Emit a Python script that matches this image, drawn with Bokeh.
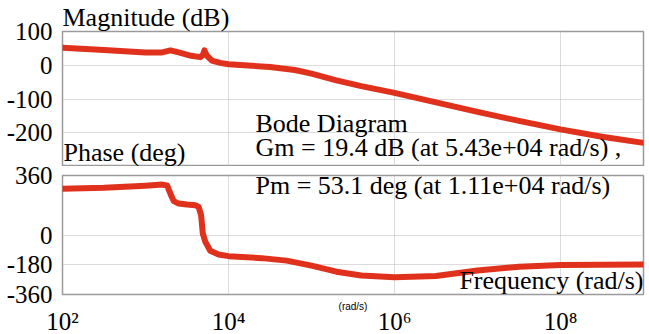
import numpy as np
from bokeh.plotting import figure
from bokeh.layouts import column
from bokeh.models import Label, FixedTicker
from bokeh.embed import file_html
from bokeh.resources import INLINE

# magnitude curve (log10 frequency, dB)
mag_logw = [2.0, 2.5, 3.0, 3.2, 3.3, 3.4, 3.55, 3.66, 3.69, 3.71, 3.74, 3.8, 3.9, 4.0, 4.5, 4.8, 5.0, 5.3, 5.6, 6.0, 6.5, 7.0, 7.5, 8.0, 8.5, 9.0]
mag_db = [52, 45, 38, 38, 44, 38, 28, 24, 30, 44, 28, 14, 7, 3, -5, -14, -25, -45, -62, -82, -110, -138, -165, -190, -212, -230]

# phase curve (log10 frequency, deg)
ph_logw = [2.0, 2.5, 3.0, 3.2, 3.26, 3.3, 3.34, 3.4, 3.5, 3.6, 3.64, 3.67, 3.69, 3.72, 3.78, 3.88, 4.0, 4.4, 4.7, 5.0, 5.3, 5.6, 6.0, 6.5, 7.0, 7.5, 8.0, 9.0]
ph_deg = [280, 286, 298, 305, 300, 250, 205, 190, 184, 180, 170, 120, 10, -40, -95, -118, -128, -140, -155, -185, -222, -245, -255, -248, -215, -192, -182, -178]

mag_yticks = [100, 0, -100, -200]
mag_ytick_labels = ["100", "0", "-100", "-200"]
ph_yticks = [360, 0, -180, -360]
ph_ytick_labels = ["360", "0", "-180", "-360"]
x_ticks = [1e2, 1e4, 1e6, 1e8]
x_tick_labels = ["10\u00b2", "10\u2074", "10\u2076", "10\u2078"]

RED = "#e0311c"
SERIF = "Liberation Serif"
GRID = "#b8b8b8"
TXT = "26px"

def style(p):
    p.outline_line_color = "#9a9a9a"
    p.outline_line_width = 1.5
    p.background_fill_color = "white"
    p.border_fill_color = "white"
    p.xgrid.ticker = FixedTicker(ticks=x_ticks)
    for g in (p.xgrid, p.ygrid):
        g.grid_line_color = GRID
        g.grid_line_dash = "1 1"
        g.grid_line_width = 1
    for ax in p.axis:
        ax.axis_line_color = None
        ax.major_tick_line_color = None
        ax.minor_tick_line_color = None
        ax.major_label_text_font = SERIF
        ax.major_label_text_font_size = "25px"
        ax.major_label_text_color = "black"
        ax.major_label_standoff = 4

W = 649
xr = (1e2, 1e9)

p1 = figure(width=W, height=166, x_axis_type="log", x_range=xr, y_range=(-300, 100),
            output_backend="svg", toolbar_location=None, title="Magnitude (dB)",
            min_border_left=62, min_border_right=6, min_border_top=0, min_border_bottom=0)
p1.title.text_font = SERIF
p1.title.text_font_size = TXT
p1.title.text_font_style = "normal"
p1.title.text_color = "black"
p1.title.align = "left"
p1.title.offset = 0
p1.title.standoff = 0
p1.xaxis.visible = False
p1.yaxis.ticker = FixedTicker(ticks=mag_yticks)
p1.yaxis.major_label_overrides = dict(zip(mag_yticks, mag_ytick_labels))
style(p1)
p1.line([10 ** v for v in mag_logw], mag_db, line_color=RED, line_width=6, line_join="round", line_cap="round")

def lab(p, x, y, text, **kw):
    p.add_layout(Label(x=x, y=y, text=text, text_font=SERIF, text_font_size=TXT,
                       text_baseline="middle", text_color="black", **kw))

lab(p1, 1e2, -258, "Phase (deg)", x_offset=1)
lab(p1, 10 ** 4.325, -173, "Bode Diagram")
lab(p1, 10 ** 4.325, -243, "Gm = 19.4 dB (at 5.43e+04 rad/s) ,")

p2 = figure(width=W, height=168, x_axis_type="log", x_range=p1.x_range, y_range=(-360, 360),
            output_backend="svg", toolbar_location=None,
            min_border_left=62, min_border_right=6, min_border_top=9, min_border_bottom=40)
p2.xaxis.ticker = FixedTicker(ticks=x_ticks)
p2.xaxis.major_label_overrides = dict(zip(x_ticks, x_tick_labels))
p2.yaxis.ticker = FixedTicker(ticks=ph_yticks)
p2.yaxis.major_label_overrides = dict(zip(ph_yticks, ph_ytick_labels))
style(p2)
p2.xaxis.major_label_standoff = 7
p2.xaxis.axis_label = "(rad/s)"
p2.xaxis.axis_label_text_font = "Liberation Sans"
p2.xaxis.axis_label_text_font_size = "10px"
p2.xaxis.axis_label_text_font_style = "normal"
p2.xaxis.axis_label_text_color = "black"
p2.xaxis.axis_label_standoff = -37
p2.line([10 ** v for v in ph_logw], ph_deg, line_color=RED, line_width=6, line_join="round", line_cap="round")

lab(p2, 10 ** 4.325, 300, "Pm = 53.1 deg (at 1.11e+04 rad/s)")
lab(p2, 1e9, -275, "Frequency (rad/s)", text_align="right")

layout = column(p1, p2, spacing=0)
open("out.html", "w").write(file_html(layout, INLINE))
